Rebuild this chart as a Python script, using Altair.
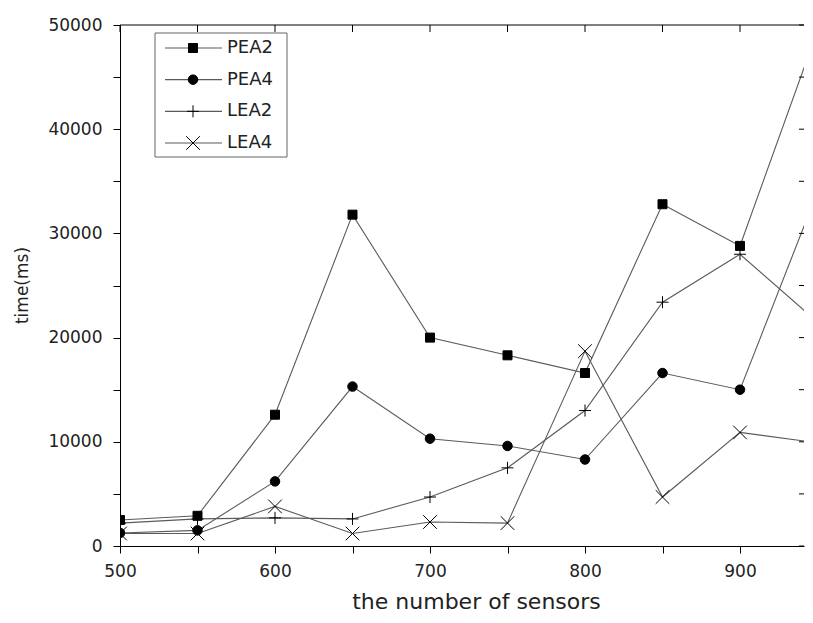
import altair as alt
import pandas as pd

# ---- data ----
sensors = [500, 550, 600, 650, 700, 750, 800, 850, 900, 950]
series_names = ["PEA2", "PEA4", "LEA2", "LEA4"]
pea2 = [2500, 2900, 12600, 31800, 20000, 18300, 16600, 32800, 28800, 49500]
pea4 = [1250, 1500, 6200, 15300, 10300, 9600, 8300, 16600, 15000, 34000]
lea2 = [2200, 2600, 2700, 2600, 4700, 7500, 13000, 23400, 28000, 21500]
lea4 = [1200, 1200, 3800, 1200, 2300, 2200, 18700, 4700, 10900, 9900]
x_ticks = [500, 550, 600, 650, 700, 750, 800, 850, 900]
y_ticks = list(range(0, 50001, 5000))

rows = []
for name, vals in zip(series_names, [pea2, pea4, lea2, lea4]):
    for s, v in zip(sensors, vals):
        rows.append({"series": name, "sensors": s, "time": v})
df = pd.DataFrame(rows)
legend_df = pd.DataFrame({"series": series_names})

W, H = 684, 521
XMAX = 500 + W / 1.55
FONT = "DejaVu Sans"
TXT = "#222222"

xscale = alt.Scale(domain=[500, XMAX], nice=False, zero=False)
yscale = alt.Scale(domain=[0, 50000], nice=False, zero=True)

x_axis = alt.Axis(
    title="the number of sensors", values=x_ticks,
    labelExpr="datum.value % 100 == 0 ? datum.label : ''",
    tickSize=7, tickColor="black", domainColor="black", grid=False,
    labelFont=FONT, labelFontSize=17, labelColor=TXT, labelPadding=10,
    labelFlush=False, labelOverlap=False,
    titleFont=FONT, titleFontSize=22, titleFontWeight="normal", titleColor=TXT,
    titleX=356, titleY=62, titleBaseline="alphabetic", titleAlign="center",
)
y_axis = alt.Axis(
    title="time(ms)", values=y_ticks, format="d",
    labelExpr="datum.value % 10000 == 0 ? datum.label : ''",
    tickSize=7, tickColor="black", domainColor="black", grid=False,
    labelFont=FONT, labelFontSize=17, labelColor=TXT, labelPadding=11,
    labelOverlap=False,
    titleFont=FONT, titleFontSize=17, titleFontWeight="normal", titleColor=TXT,
    titleAngle=270, titleX=-98, titleY=260, titleAlign="center", titleBaseline="middle",
)

PLUS = "M-1.2,0L1.2,0M0,-1.2L0,1.2"
XMARK = "M-1.3,-1.3L1.3,1.3M-1.3,1.3L1.3,-1.3"
shape_scale = alt.Scale(domain=series_names, range=["square", "circle", PLUS, XMARK])
size_scale = alt.Scale(domain=series_names, range=[81, 110, 81, 81])

X = lambda f: alt.X(f, scale=xscale, axis=x_axis)
Y = lambda f: alt.Y(f, scale=yscale, axis=y_axis)

lines = alt.Chart(df).mark_line(color="#5a5a5a", strokeWidth=1.1, clip=True).encode(
    x=X("sensors:Q"), y=Y("time:Q"), detail="series:N",
)
points = alt.Chart(df).mark_point(
    filled=True, fill="black", stroke="black", strokeWidth=1, opacity=1, clip=True
).encode(
    x=X("sensors:Q"), y=Y("time:Q"),
    shape=alt.Shape("series:N", scale=shape_scale, legend=None),
    size=alt.Size("series:N", scale=size_scale, legend=None),
)
top_line = alt.Chart(pd.DataFrame({"k": [0]})).mark_rule(color="black", strokeWidth=1).encode(
    x=alt.value(0), x2=alt.value(W), y=alt.value(0)
)
top_ticks = alt.Chart(pd.DataFrame({"sensors": x_ticks})).mark_rule(color="black", strokeWidth=1).encode(
    x=X("sensors:Q"), y=alt.value(0), y2=alt.value(7)
)
right_ticks = alt.Chart(pd.DataFrame({"time": y_ticks})).mark_rule(color="black", strokeWidth=1).encode(
    y=Y("time:Q"), x=alt.value(W - 5), x2=alt.value(W)
)
main = alt.layer(lines, points, top_line, top_ticks, right_ticks)

# ---- legend (Origin style: line through marker) ----
leg_y = alt.Y("series:N", scale=alt.Scale(type="point", domain=series_names, range=[23, 118], padding=0), axis=None)
leg_box = alt.Chart(pd.DataFrame({"k": [0]})).mark_rect(
    fill="white", stroke="#666666", strokeWidth=1
).encode(x=alt.value(35), x2=alt.value(167), y=alt.value(8), y2=alt.value(132))
leg_lines = alt.Chart(legend_df).mark_rule(color="#5a5a5a", strokeWidth=1.1).encode(
    x=alt.value(45), x2=alt.value(102), y=leg_y
)
leg_points = alt.Chart(legend_df).mark_point(
    filled=True, fill="black", stroke="black", strokeWidth=1, opacity=1
).encode(
    x=alt.value(73), y=leg_y,
    shape=alt.Shape("series:N", scale=shape_scale, legend=None),
    size=alt.Size("series:N", scale=size_scale, legend=None),
)
leg_text = alt.Chart(legend_df).mark_text(
    align="left", baseline="middle", font=FONT, fontSize=18, color=TXT
).encode(x=alt.value(107), y=leg_y, text="series:N")
legend = alt.layer(leg_box, leg_lines, leg_points, leg_text)

chart = alt.layer(main, legend).resolve_scale(y="independent").properties(
    width=W, height=H,
    padding={"left": 112, "top": 17, "right": 1, "bottom": 69},
    autosize=alt.AutoSizeParams(type="none"),
    background="white",
).configure_view(strokeWidth=0)

chart.save("out.html", embed_options={"renderer": "svg", "actions": False})
